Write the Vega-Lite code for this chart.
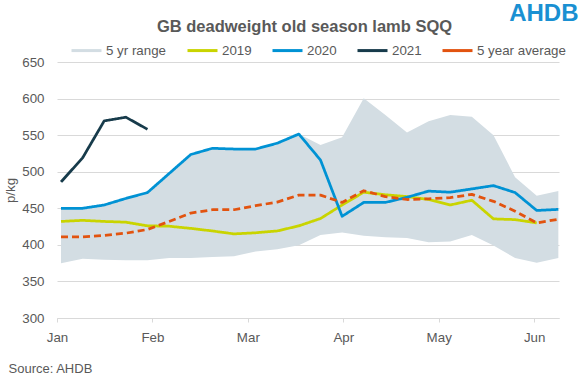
{
  "$schema": "https://vega.github.io/schema/vega-lite/v6.json",
  "width": 502,
  "height": 256,
  "autosize": {"type": "none"},
  "padding": {"left": 57, "top": 62, "right": 22, "bottom": 60},
  "background": "white",
  "config": {
    "font": "Liberation Sans",
    "view": {"stroke": null},
    "axis": {"labelColor": "#595959", "titleColor": "#595959", "labelFontSize": 13.33, "titleFontSize": 13.33, "titleFontWeight": "normal", "labelFont": "Liberation Sans", "titleFont": "Liberation Sans"}
  },
  "title": {
    "text": "GB deadweight old season lamb SQQ",
    "fontSize": 16.5,
    "fontWeight": "bold",
    "color": "#595959",
    "font": "Liberation Sans",
    "anchor": "middle",
    "frame": "group",
    "baseline": "alphabetic",
    "dx": -3.5,
    "offset": -46.5
  },
  "data": {
    "values": [
      {"week": 0, "2019": 432, "2020": 450, "2021": 486, "5 year average": 411, "min": 375, "max": 450},
      {"week": 1, "2019": 433.5, "2020": 450, "2021": 519, "5 year average": 411, "min": 381, "max": 450},
      {"week": 2, "2019": 432, "2020": 454.5, "2021": 569.5, "5 year average": 413, "min": 379.5, "max": 454.5},
      {"week": 3, "2019": 431, "2020": 463.5, "2021": 574.5, "5 year average": 416, "min": 379, "max": 463.5},
      {"week": 4, "2019": 426, "2020": 471.5, "2021": 558, "5 year average": 421, "min": 379, "max": 471.5},
      {"week": 5, "2019": 425.5, "2020": 497.5, "2021": null, "5 year average": 432, "min": 382, "max": 497.5},
      {"week": 6, "2019": 422.5, "2020": 523.5, "2021": null, "5 year average": 443.5, "min": 382, "max": 523.5},
      {"week": 7, "2019": 419, "2020": 532, "2021": null, "5 year average": 448, "min": 383.5, "max": 532},
      {"week": 8, "2019": 415, "2020": 531, "2021": null, "5 year average": 448, "min": 384.5, "max": 531},
      {"week": 9, "2019": 416.5, "2020": 531, "2021": null, "5 year average": 453.5, "min": 391, "max": 531},
      {"week": 10, "2019": 419, "2020": 539, "2021": null, "5 year average": 458.5, "min": 394, "max": 539},
      {"week": 11, "2019": 426, "2020": 551.5, "2021": null, "5 year average": 468, "min": 399.5, "max": 551.5},
      {"week": 12, "2019": 436, "2020": 516, "2021": null, "5 year average": 468, "min": 413.5, "max": 536.5},
      {"week": 13, "2019": 454.5, "2020": 439, "2021": null, "5 year average": 458, "min": 417, "max": 547},
      {"week": 14, "2019": 472, "2020": 458, "2021": null, "5 year average": 474, "min": 412.5, "max": 600.5},
      {"week": 15, "2019": 468.5, "2020": 458, "2021": null, "5 year average": 466, "min": 410.5, "max": 577.5},
      {"week": 16, "2019": 466, "2020": 465, "2021": null, "5 year average": 462, "min": 409.5, "max": 553.5},
      {"week": 17, "2019": 462, "2020": 473.5, "2021": null, "5 year average": 463, "min": 403.5, "max": 569},
      {"week": 18, "2019": 454.5, "2020": 472, "2021": null, "5 year average": 464.5, "min": 404.5, "max": 577.5},
      {"week": 19, "2019": 461, "2020": 476.5, "2021": null, "5 year average": 469, "min": 413.5, "max": 575},
      {"week": 20, "2019": 435.5, "2020": 481, "2021": null, "5 year average": 459.5, "min": 399, "max": 550},
      {"week": 21, "2019": 434.5, "2020": 471.5, "2021": null, "5 year average": 446, "min": 382, "max": 492.5},
      {"week": 22, "2019": 430, "2020": 447, "2021": null, "5 year average": 430, "min": 375.5, "max": 467},
      {"week": 23, "2019": null, "2020": 448.5, "2021": null, "5 year average": 435, "min": 382, "max": 473.5}
    ]
  },
  "resolve": {"axis": {"y": "independent"}},
  "layer": [
    {
      "mark": {"type": "area", "opacity": 1},
      "encoding": {
        "x": {
          "field": "week",
          "type": "quantitative",
          "scale": {"domain": [-0.185, 23.03], "nice": false, "zero": false},
          "axis": {
            "values": [-0.185, 4.228, 8.641, 13.054, 17.467, 21.88],
            "labelExpr": "['Jan','Feb','Mar','Apr','May','Jun'][round((datum.value + 0.185) / 4.413)]",
            "grid": false,
            "domain": true,
            "domainColor": "#d9d9d9",
            "ticks": true,
            "tickColor": "#d9d9d9",
            "tickSize": 4,
            "labelPadding": 8,
            "labelFlush": false,
            "labelOverlap": false,
            "title": "Source: AHDB",
            "titleX": -49,
            "titleY": 50,
            "titleAlign": "left",
            "titleBaseline": "middle",
            "titleFontSize": 13
          }
        },
        "y": {
          "field": "min",
          "type": "quantitative",
          "scale": {"domain": [300, 650], "nice": false, "zero": false},
          "axis": {
            "values": [300, 350, 400, 450, 500, 550, 600, 650],
            "grid": true,
            "gridColor": "#d9d9d9",
            "gridWidth": 1,
            "domain": false,
            "ticks": false,
            "labelPadding": 13,
            "title": "p/kg",
            "titlePadding": 4
          }
        },
        "y2": {"field": "max"},
        "color": {
          "datum": "5 yr range",
          "scale": {
            "domain": ["5 yr range", "2019", "2020", "2021", "5 year average"],
            "range": ["#d3dde3", "#c9d400", "#0092d4", "#173b4b", "#e2530f"]
          },
          "legend": {
            "title": null,
            "orient": "none",
            "legendX": 13,
            "legendY": -28,
            "direction": "horizontal",
            "columns": 5,
            "columnPadding": 14,
            "padding": 0,
            "symbolType": "stroke",
            "symbolSize": 900,
            "symbolStrokeWidth": 3,
            "labelOffset": 3,
            "labelFontSize": 13.33,
            "labelColor": "#595959",
            "labelFont": "Liberation Sans",
            "encode": {
              "symbols": {
                "update": {
                  "stroke": {"scale": "color", "field": "value"},
                  "fill": {"value": "transparent"},
                  "opacity": {"value": 1},
                  "strokeWidth": {"signal": "datum.value === '5 yr range' ? 6 : 3"},
                  "strokeDash": {"signal": "datum.value === '5 year average' ? [6, 4] : [1, 0]"}
                }
              }
            }
          }
        }
      }
    },
    {
      "transform": [
        {"fold": ["2019", "2020", "2021", "5 year average"], "as": ["series", "value"]}
      ],
      "mark": {"type": "line", "strokeWidth": 2.75, "strokeJoin": "round"},
      "encoding": {
        "x": {"field": "week", "type": "quantitative"},
        "y": {
          "field": "value",
          "type": "quantitative",
          "axis": {
            "orient": "right",
            "labels": false,
            "ticks": false,
            "domain": false,
            "grid": false,
            "title": "AHDB",
            "titleAngle": 0,
            "titleColor": "#1a90d2",
            "titleFontSize": 24,
            "titleFontWeight": "bold",
            "titleX": 19,
            "titleY": -41.5,
            "titleAlign": "right",
            "titleBaseline": "alphabetic"
          }
        },
        "color": {"field": "series", "type": "nominal", "legend": {"title": null}},
        "strokeDash": {
          "field": "series",
          "type": "nominal",
          "scale": {
            "domain": ["2019", "2020", "2021", "5 year average"],
            "range": [[1, 0], [1, 0], [1, 0], [7, 4]]
          },
          "legend": null
        }
      }
    }
  ]
}
